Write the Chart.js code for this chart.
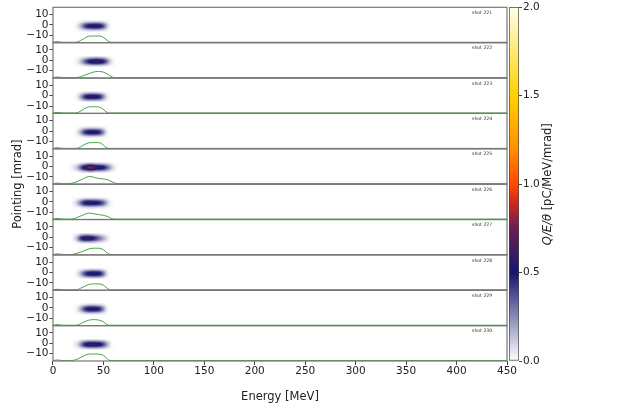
<!DOCTYPE html>
<html>
<head>
<meta charset="utf-8">
<script src="https://cdn.jsdelivr.net/npm/chart.js@4.4.0/dist/chart.umd.min.js"></script>
<style>
  body { margin: 0; background: #fff; }
  #wrap { position: relative; width: 630px; height: 408px; }
  canvas { position: absolute; top: 0; }
</style>
</head>
<body>
<div id="wrap">
  <canvas id="main" width="630" height="408" style="left:0"></canvas>
  <canvas id="cbar" width="130" height="408" style="left:500px"></canvas>
</div>
<script>
// shots, top panel first
const shots = ['shot 221', 'shot 222', 'shot 223', 'shot 224', 'shot 225', 'shot 226', 'shot 227', 'shot 228', 'shot 229', 'shot 230'];
const yTicks = [-10, 0, 10];
const cbTicks = [0, 0.5, 1, 1.5, 2];

// energy spectrum lineouts (green), heights in panel units above the baseline
const specE = [0, 4, 10, 15, 17.5, 20, 22.5, 25, 27.5, 30, 32.5, 35, 37.5, 40, 42.5, 45, 47.5, 50, 52.5, 55, 57.5, 60, 62.5, 65, 450];
const spec221 = [0, 0.6, 0, 0, 0, 0, 0, 0.5, 1.8, 3.2, 4.6, 5.8, 6, 6, 6, 6, 5.8, 4.5, 2.8, 0.8, 0, 0, 0, 0, 0];
const spec222 = [0, 0.6, 0, 0, 0, 0, 0, 0.2, 1, 1.8, 2.7, 3.6, 4.5, 5.3, 5.8, 6, 5.8, 5.2, 4.2, 2.8, 1.2, 0, 0, 0, 0];
const spec223 = [0, 0.6, 0, 0, 0, 0, 0, 0.5, 2, 3.5, 4.8, 5.8, 6, 6, 6, 5.9, 5, 3.4, 1.2, 0, 0, 0, 0, 0, 0];
const spec224 = [0, 0.6, 0, 0, 0, 0, 0, 0.3, 1.5, 3, 4.3, 5.2, 5.5, 5.6, 5.6, 5.5, 5, 3, 0.8, 0, 0, 0, 0, 0, 0];
const spec225 = [0, 0.6, 0, 0, 0.3, 0.8, 1.6, 2.5, 3.6, 4.8, 6, 6.8, 7, 6.3, 5.6, 5.2, 4.8, 4.6, 4.2, 3.5, 2.4, 1.2, 0.4, 0, 0];
const spec226 = [0, 0.6, 0, 0, 0, 0.2, 1, 2, 3, 4, 5, 5.7, 5.6, 5.2, 4.8, 4.4, 4, 3.6, 3, 2.2, 0.8, 0, 0, 0, 0];
const spec227 = [0, 0.6, 0, 0, 0, 0.2, 0.8, 1.5, 2.3, 3.2, 4.2, 5.2, 5.8, 6, 6, 6, 5.8, 4.5, 2.5, 0.5, 0, 0, 0, 0, 0];
const spec228 = [0, 0.6, 0, 0, 0, 0, 0, 0.4, 1.6, 2.8, 4, 5, 5.5, 5.7, 5.7, 5.7, 5.5, 4.5, 2.5, 0.6, 0, 0, 0, 0, 0];
const spec229 = [0, 0.6, 0, 0, 0, 0, 0, 0.4, 1.5, 2.7, 3.8, 4.7, 5.2, 5.4, 5.3, 5, 4.5, 3.2, 1.2, 0, 0, 0, 0, 0, 0];
const spec230 = [0, 0.6, 0, 0, 0, 0.2, 0.8, 1.8, 3, 4.3, 5.5, 6.1, 6.3, 6.3, 6.3, 6.2, 6, 5, 3, 0.6, 0, 0, 0, 0, 0];
const spectra = [spec221, spec222, spec223, spec224, spec225, spec226, spec227, spec228, spec229, spec230];

// charge density (pC/MeV/mrad) along energy at the beam centre
const heatE = [15, 17.5, 20, 22.5, 25, 27.5, 30, 32.5, 35, 37.5, 40, 42.5, 45, 47.5, 50, 52.5, 55, 57.5, 60, 62.5, 65];
const heat221 = [0, 0, 0, 0.02, 0.08, 0.18, 0.32, 0.45, 0.52, 0.56, 0.58, 0.58, 0.56, 0.5, 0.38, 0.2, 0.06, 0, 0, 0, 0];
const heat222 = [0, 0, 0, 0.02, 0.06, 0.14, 0.25, 0.38, 0.48, 0.55, 0.6, 0.62, 0.6, 0.56, 0.48, 0.36, 0.2, 0.08, 0.02, 0, 0];
const heat223 = [0, 0, 0, 0.02, 0.08, 0.2, 0.36, 0.5, 0.56, 0.58, 0.58, 0.56, 0.52, 0.42, 0.26, 0.1, 0.02, 0, 0, 0, 0];
const heat224 = [0, 0, 0, 0.02, 0.08, 0.2, 0.36, 0.48, 0.54, 0.56, 0.56, 0.54, 0.5, 0.4, 0.24, 0.08, 0, 0, 0, 0, 0];
const heat225 = [0, 0.02, 0.05, 0.1, 0.2, 0.35, 0.5, 0.62, 0.75, 0.8, 0.7, 0.6, 0.58, 0.55, 0.5, 0.4, 0.28, 0.16, 0.07, 0.02, 0];
const heat226 = [0, 0, 0.03, 0.08, 0.18, 0.32, 0.46, 0.55, 0.58, 0.58, 0.56, 0.54, 0.5, 0.44, 0.34, 0.2, 0.08, 0.02, 0, 0, 0];
const heat227 = [0, 0, 0.03, 0.1, 0.25, 0.45, 0.56, 0.6, 0.6, 0.56, 0.5, 0.42, 0.34, 0.26, 0.18, 0.1, 0.04, 0, 0, 0, 0];
const heat228 = [0, 0, 0, 0.02, 0.08, 0.18, 0.32, 0.45, 0.53, 0.57, 0.58, 0.57, 0.54, 0.46, 0.3, 0.12, 0.02, 0, 0, 0, 0];
const heat229 = [0, 0, 0, 0.02, 0.08, 0.2, 0.35, 0.48, 0.55, 0.58, 0.58, 0.56, 0.5, 0.4, 0.24, 0.08, 0, 0, 0, 0, 0];
const heat230 = [0, 0, 0.02, 0.05, 0.12, 0.25, 0.4, 0.52, 0.58, 0.6, 0.6, 0.58, 0.55, 0.5, 0.4, 0.26, 0.12, 0.03, 0, 0, 0];
const heats = [heat221, heat222, heat223, heat224, heat225, heat226, heat227, heat228, heat229, heat230];

// pointing profile across the beam (relative), centre of each shot in mrad
const pointOff = [-5, -4, -3, -2, -1, 0, 1, 2, 3, 4, 5];
const pointW = [0.08, 0.22, 0.45, 0.72, 0.92, 1, 0.92, 0.72, 0.45, 0.22, 0.08];
const pointCentre = [-1, -1, -1, -1, -1, -1, -1, -1, -1, -1];

// colormap of the colorbar
const cmapStops = [0, 0.5, 0.75, 0.9, 1.0, 1.2, 1.5, 2.0];
const cmapColors = ['#ffffff', '#16166e', '#6a1f52', '#d02a1a', '#ff4a00', '#ff9000', '#ffd200', '#ffffe8'];

const FONT = 'DejaVu Sans';
const TXT = '#222';
const SPEC_BASE = -16.6;

function hexRgb(h) {
  return [parseInt(h.slice(1, 3), 16), parseInt(h.slice(3, 5), 16), parseInt(h.slice(5, 7), 16)];
}
function cmapRgb(v) {
  let i = 0;
  while (i < cmapStops.length - 2 && v > cmapStops[i + 1]) i++;
  const t = Math.max(0, Math.min(1, (v - cmapStops[i]) / (cmapStops[i + 1] - cmapStops[i])));
  const a = hexRgb(cmapColors[i]), b = hexRgb(cmapColors[i + 1]);
  return a.map((c, k) => Math.round(c + (b[k] - c) * t));
}
const minus = v => v < 0 ? '\u2212' + Math.abs(v) : '' + v;

// one small image per shot (energy x pointing cells), stretched onto the axes
const heatImages = heats.map(row => {
  const c = document.createElement('canvas');
  c.width = heatE.length;
  c.height = pointOff.length;
  const g = c.getContext('2d');
  const img = g.createImageData(c.width, c.height);
  row.forEach((h, j) => {
    pointOff.forEach((o, k) => {
      const rgb = cmapRgb(h * pointW[k]);
      const idx = ((pointOff.length - 1 - k) * c.width + j) * 4;
      img.data[idx] = rgb[0]; img.data[idx + 1] = rgb[1]; img.data[idx + 2] = rgb[2]; img.data[idx + 3] = 255;
    });
  });
  g.putImageData(img, 0, 0);
  return c;
});

const heatPlugin = {
  id: 'heat',
  beforeDatasetsDraw(chart) {
    const { ctx } = chart;
    const x = chart.scales.x;
    const dE = (heatE[1] - heatE[0]) / 2;
    ctx.save();
    ctx.imageSmoothingEnabled = true;
    heatImages.forEach((im, i) => {
      const ys = chart.scales['y' + i];
      const x0 = x.getPixelForValue(heatE[0] - dE);
      const x1 = x.getPixelForValue(heatE[heatE.length - 1] + dE);
      const y0 = ys.getPixelForValue(pointCentre[i] + pointOff[pointOff.length - 1] + 0.5);
      const y1 = ys.getPixelForValue(pointCentre[i] + pointOff[0] - 0.5);
      ctx.drawImage(im, x0, y0, x1 - x0, y1 - y0);
    });
    ctx.restore();
  }
};

const framePlugin = {
  id: 'frames',
  afterDatasetsDraw(chart) {
    const { ctx, chartArea } = chart;
    ctx.save();
    shots.forEach((s, i) => {
      const ys = chart.scales['y' + i];
      ctx.strokeStyle = '#777';
      ctx.lineWidth = 1.2;
      ctx.strokeRect(chartArea.left, ys.top, chartArea.right - chartArea.left, ys.bottom - ys.top);
      ctx.fillStyle = '#333';
      ctx.font = '4.6px ' + FONT;
      ctx.textAlign = 'left';
      ctx.textBaseline = 'middle';
      ctx.fillText(s, chartArea.right - 35, ys.top + 5.5);
    });
    ctx.restore();
  },
  afterDraw(chart) {
    const { ctx, chartArea } = chart;
    ctx.save();
    ctx.translate(18, (chartArea.top + chartArea.bottom) / 2);
    ctx.rotate(-Math.PI / 2);
    ctx.font = '11.5px ' + FONT;
    ctx.fillStyle = TXT;
    ctx.textAlign = 'center';
    ctx.textBaseline = 'middle';
    ctx.fillText('Pointing [mrad]', 0, 0);
    ctx.restore();
  }
};

const scales = {
  x: {
    type: 'linear', position: 'bottom', min: 0, max: 450,
    ticks: { stepSize: 50, font: { family: FONT, size: 10.5 }, color: TXT, padding: 0, maxRotation: 0 },
    grid: { drawOnChartArea: false, tickLength: 4, color: '#444' },
    border: { display: false },
    title: { display: true, text: 'Energy [MeV]', font: { family: FONT, size: 11.5 }, color: TXT, padding: { top: 6, bottom: 4 } },
    afterFit: s => { s.height = 47; }
  }
};
// bottom panel first so the stack is built upward
for (let i = shots.length - 1; i >= 0; i--) {
  scales['y' + i] = {
    type: 'linear', position: 'left', stack: 'shots', stackWeight: 1, min: -17, max: 17,
    afterBuildTicks: s => { s.ticks = yTicks.map(v => ({ value: v })); },
    ticks: { font: { family: FONT, size: 10.5 }, color: TXT, padding: 1, autoSkip: false, callback: minus },
    grid: { drawOnChartArea: false, tickLength: 3.5, color: '#444' },
    border: { display: false },
    afterFit: s => { s.width = 53; }
  };
}

new Chart(document.getElementById('main'), {
  type: 'scatter',
  data: {
    datasets: spectra.map((s, i) => ({
      data: specE.map((e, j) => ({ x: e, y: SPEC_BASE + s[j] })),
      yAxisID: 'y' + i,
      showLine: true,
      borderColor: 'rgb(70,165,70)',
      borderWidth: 1,
      pointRadius: 0,
      tension: 0
    }))
  },
  options: {
    responsive: false,
    animation: false,
    layout: { padding: { left: 0, right: 123, top: 4, bottom: 0 } },
    plugins: { legend: { display: false }, tooltip: { enabled: false } },
    scales
  },
  plugins: [heatPlugin, framePlugin]
});

const cbLabelPlugin = {
  id: 'cblabel',
  afterDraw(chart) {
    const { ctx, chartArea } = chart;
    ctx.save();
    ctx.translate(48, (chartArea.top + chartArea.bottom) / 2);
    ctx.rotate(-Math.PI / 2);
    ctx.fillStyle = TXT;
    ctx.textBaseline = 'middle';
    const a = 'Q/E/\u03b8', b = ' [pC/MeV/mrad]';
    ctx.font = 'italic 11.5px ' + FONT;
    const wa = ctx.measureText(a).width;
    ctx.font = '11.5px ' + FONT;
    const wb = ctx.measureText(b).width;
    ctx.font = 'italic 11.5px ' + FONT;
    ctx.fillText(a, -(wa + wb) / 2, 0);
    ctx.font = '11.5px ' + FONT;
    ctx.fillText(b, -(wa + wb) / 2 + wa, 0);
    ctx.restore();
  }
};

new Chart(document.getElementById('cbar'), {
  type: 'bar',
  data: {
    labels: [''],
    datasets: [{
      data: [cbTicks[cbTicks.length - 1]],
      backgroundColor: c => {
        const y = c.chart.scales.y;
        if (!y || !c.chart.chartArea) return '#fff';
        const g = c.chart.ctx.createLinearGradient(0, y.getPixelForValue(0), 0, y.getPixelForValue(2));
        cmapStops.forEach((s, i) => g.addColorStop(s / 2, cmapColors[i]));
        return g;
      },
      borderColor: '#444',
      borderWidth: 1,
      borderSkipped: false,
      barPercentage: 1,
      categoryPercentage: 1
    }]
  },
  options: {
    responsive: false,
    animation: false,
    layout: { padding: { left: 9, right: 0, top: 4, bottom: 47 } },
    plugins: { legend: { display: false }, tooltip: { enabled: false } },
    scales: {
      x: { display: false },
      y: {
        position: 'right', min: 0, max: 2,
        afterBuildTicks: s => { s.ticks = cbTicks.map(v => ({ value: v })); },
        ticks: { font: { family: FONT, size: 10.5 }, color: TXT, padding: 1, callback: v => v.toFixed(1) },
        grid: { drawOnChartArea: false, tickLength: 3, color: '#444' },
        border: { display: false },
        afterFit: s => { s.width = 111; }
      }
    }
  },
  plugins: [cbLabelPlugin]
});
</script>
</body>
</html>
